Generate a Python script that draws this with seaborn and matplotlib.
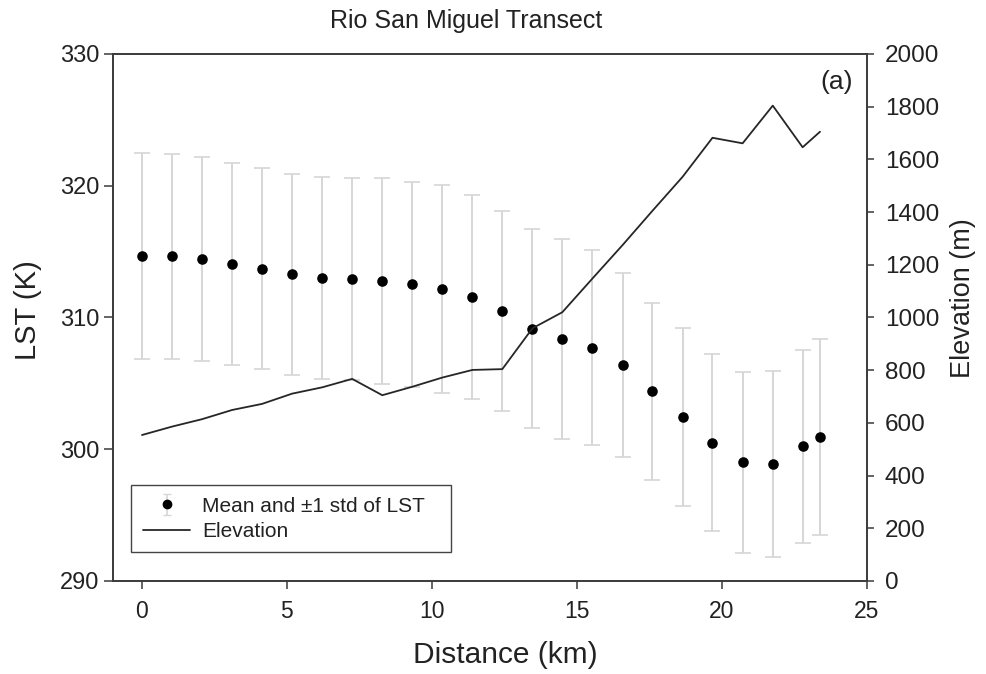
import numpy as np
import pandas as pd
import matplotlib
matplotlib.use("Agg")
import matplotlib.pyplot as plt
import seaborn as sns

distance = [0.00, 1.04, 2.07, 3.11, 4.14, 5.18, 6.22, 7.25, 8.29, 9.32, 10.36, 11.40,
            12.43, 13.47, 14.50, 15.54, 16.58, 17.61, 18.65, 19.68, 20.72, 21.76, 22.79, 23.39]
lst_mean = [314.67, 314.66, 314.41, 314.07, 313.70, 313.28, 313.02, 312.92, 312.76, 312.52, 312.18, 311.53,
            310.52, 309.16, 308.36, 307.72, 306.39, 304.39, 302.47, 300.51, 299.03, 298.88, 300.23, 300.92]
lst_std = [7.79, 7.78, 7.75, 7.67, 7.64, 7.62, 7.68, 7.70, 7.84, 7.80, 7.89, 7.75,
           7.58, 7.58, 7.56, 7.39, 6.97, 6.73, 6.76, 6.74, 6.87, 7.03, 7.32, 7.44]
elevation = [554, 586, 614, 649, 672, 711, 735, 767, 705, 737, 772, 801,
             804, 959, 1020, 1148, 1275, 1405, 1534, 1682, 1661, 1804, 1646, 1705]

title = "Rio San Miguel Transect"
xlabel = "Distance (km)"
ylabel_left = "LST (K)"
ylabel_right = "Elevation (m)"
legend_labels = ["Mean and \u00b11 std of LST", "Elevation"]
panel_label = "(a)"

df = pd.DataFrame({"distance": distance, "lst": lst_mean, "std": lst_std, "elev": elevation})

sns.set_style("ticks")
plt.rcParams["font.family"] = ["Liberation Sans", "DejaVu Sans"]

fig = plt.figure(figsize=(9.86, 6.74), dpi=100)
ax = fig.add_axes([0.1146, 0.138, 0.7644, 0.7819])
ax2 = ax.twinx()

err_col = "#d6d6d6"
line_col = "#262626"
spine_col = "#3a3a3a"
txt_col = "#222222"

ax.errorbar(df["distance"], df["lst"], yerr=df["std"], fmt="none", ecolor=err_col,
            elinewidth=1.4, capsize=5.5, capthick=1.2, zorder=1)
sns.scatterplot(data=df, x="distance", y="lst", ax=ax, color="black", s=58,
                edgecolor="black", linewidth=0, zorder=3, legend=False)
sns.lineplot(data=df, x="distance", y="elev", ax=ax2, color=line_col, linewidth=1.3,
             legend=False, estimator=None)

ax.set_xlim(-1, 25)
ax.set_ylim(290, 330)
ax2.set_ylim(0, 2000)
ax.set_xticks([0, 5, 10, 15, 20, 25])
ax.set_yticks([290, 300, 310, 320, 330])
ax2.set_yticks(list(range(0, 2001, 200)))

ax.set_title(title, fontsize=18, pad=19, color=txt_col, x=0.468)
ax.set_xlabel(xlabel, fontsize=21.5, labelpad=13, color=txt_col)
ax.xaxis.label.set_x(0.52)
ax.set_ylabel(ylabel_left, fontsize=21, labelpad=13, color=txt_col)
ax.yaxis.label.set_y(0.514)
ax2.set_ylabel(ylabel_right, fontsize=19.5, labelpad=8, color=txt_col)
ax2.yaxis.label.set_y(0.537)

for a in (ax, ax2):
    for s in a.spines.values():
        s.set_visible(True)
        s.set_color(spine_col)
        s.set_linewidth(1.2)
ax.tick_params(axis="y", labelsize=17, length=6.5, width=1.1, color=spine_col,
               labelcolor=txt_col, pad=3.5, right=False)
ax.tick_params(axis="x", labelsize=16.5, length=6, width=1.1, color=spine_col,
               labelcolor=txt_col, pad=8, top=False)
ax2.tick_params(axis="y", labelsize=17.5, length=5, width=1.1, color=spine_col,
                labelcolor=txt_col, pad=8)

ax.text(0.982, 0.947, panel_label, transform=ax.transAxes, fontsize=19,
        ha="right", va="center", color=txt_col)

# legend handles
proxy_err = ax.errorbar([np.nan], [np.nan], yerr=[1], fmt="o", color="black", ms=6,
                        ecolor=err_col, elinewidth=1.2, capsize=3, capthick=1.0)
line_handle = ax2.get_lines()[0]
leg = ax2.legend([proxy_err, line_handle], legend_labels, loc="lower left",
                 bbox_to_anchor=(0.024, 0.0545, 0.4246, 0.13), mode="expand",
                 borderaxespad=0, fontsize=15,
                 frameon=True, fancybox=False, edgecolor="#444444", framealpha=1,
                 handlelength=2.3, labelspacing=0.3, borderpad=0.55,
                 handletextpad=0.55)
leg.get_frame().set_linewidth(1.0)
for t in leg.get_texts():
    t.set_color(txt_col)
leg.set_zorder(10)

fig.savefig("out.png", dpi=100)
